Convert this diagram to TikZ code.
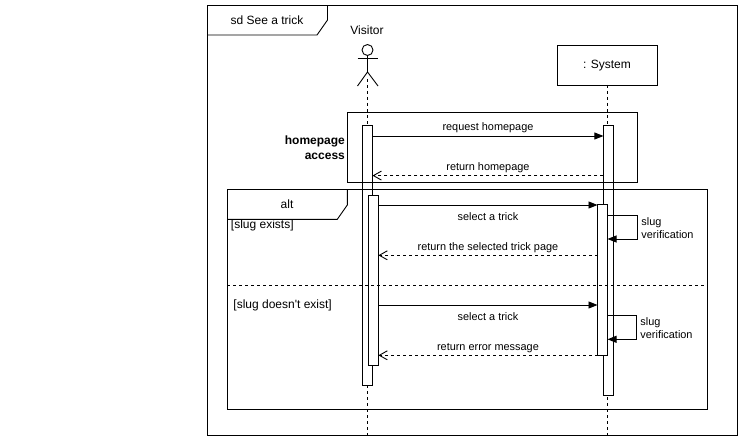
\documentclass[tikz,border=0pt]{standalone}
\usepackage{fontspec}
\setmainfont{Liberation Sans}
\newfontfamily\guardfont{Liberation Sans}
\usetikzlibrary{%
  arrows.meta,%
  positioning
}
\tikzset{%
  seqtext/.style={font=\fontsize{10.9}{13}\selectfont,inner sep=0pt},
  bigtext/.style={font=\fontsize{12}{14}\selectfont,inner sep=0pt},
  lifeline/.style={dash pattern=on 3pt off 3pt},
  fragment/.style={draw,inner sep=0pt,outer sep=0pt,anchor=north west},
  activation/.style={draw,fill=white,minimum width=10pt,inner sep=0pt,outer sep=0pt,anchor=north},
  callarrow/.style={-{Triangle[length=9pt,width=7pt]}},
  backarrow/.style={dash pattern=on 3pt off 3pt,-{Straight Barb[length=8pt,width=9pt]}}
}
\begin{document}
\begin{tikzpicture}[x=1pt,y=-1pt,line width=0.9pt]
      \useasboundingbox (0,0) rectangle (743,441);
      % outer frame
      \node [fragment,minimum width=529.5pt,minimum height=430pt] (frame) at (207.5,5.5) {};
      \draw (207.5,35) -- (317,35) -- (327.5,20) -- (327.5,5.5);
      \node [bigtext] (title) at (267,20.5) {sd See a trick};
      % actor
      \node [draw,circle,minimum size=11pt,inner sep=0pt,outer sep=0pt] (head) at (367.5,50) {};
      \coordinate (hip) at (367.5,72);
      \coordinate (foot) at (367.5,79);
      \draw (head.south) -- (hip);
      \draw (357.5,58.5) -- (378,58.5);
      \draw (357.5,86) -- (hip) -- (378,86);
      \node [bigtext] (visitor) at (367,30) {Visitor};
      \node [draw,minimum width=100pt,minimum height=40pt,inner sep=0pt,outer sep=0pt] (system) at (607.3,65) {};
      \node [bigtext] (systemlabel) at (607,65.5) {: System};
      % lifelines
      \coordinate (visitorend) at (367.5,435.5);
      \coordinate (systemend) at (607.3,435.5);
      \draw [lifeline] (foot) -- (visitorend);
      \draw [lifeline] (system.south) -- (systemend);
      % activations under the fragments
      \node [activation,minimum height=259.7pt] (visitorone) at (367.5,125.5) {};
      \node [activation,minimum height=270pt] (systemone) at (608.4,125.3) {};
      % fragments
      \node [fragment,minimum width=290pt,minimum height=70pt] (homepage) at (347.3,112.3) {};
      \node [align=right,anchor=east,inner sep=0pt,font=\fontsize{12}{15}\selectfont\bfseries,left=2pt of homepage.west] (homepagelabel) {homepage\\access};
      \node [fragment,minimum width=480.2pt,minimum height=220pt] (alt) at (227.3,189.3) {};
      \draw (227.3,219.3) -- (337.3,219.3) -- (347.3,205) -- (347.3,189.3);
      \node [bigtext] (altlabel) at (287,204.5) {alt};
      \node [bigtext,anchor=west] (guardone) at (230.5,225.5) {[slug exists]};
      \node [bigtext,anchor=west] (guardtwo) at (233,305) {\guardfont [slug doesn't exist]};
      \node [activation,minimum height=170.3pt] (visitortwo) at (373.4,195) {};
      \node [activation,minimum height=151.3pt] (systemtwo) at (602.5,204) {};
      \draw [lifeline] (alt.west |- 0,285.3) -- (alt.east |- 0,285.3);
      % messages
      \draw [callarrow] (visitorone.east |- 0,136) -- node [seqtext,above=2.5pt] {request homepage} (systemone.west |- 0,136);
      \draw [backarrow] (systemone.west |- 0,175.6) -- node [seqtext,above=2.5pt] {return homepage} (visitorone.east |- 0,175.6);
      \draw [callarrow] (visitortwo.east |- 0,205) -- node [seqtext,below=7pt] {select a trick} (systemtwo.west |- 0,205);
      \draw [backarrow] (systemtwo.west |- 0,255.3) -- node [seqtext,above=2.5pt] {return the selected trick page} (visitortwo.east |- 0,255.3);
      \draw [callarrow] (visitortwo.east |- 0,305) -- node [seqtext,below=7pt] {select a trick} (systemtwo.west |- 0,305);
      \draw [backarrow] (systemtwo.west |- 0,355.3) -- node [seqtext,above=2.5pt] {return error message} (visitortwo.east |- 0,355.3);
      % self calls
      \draw [callarrow] (systemtwo.east |- 0,215) -- (637.3,215) -- (637.3,239) -- (systemtwo.east |- 0,239);
      \node [seqtext,align=left,anchor=west,font=\fontsize{10.9}{13.5}\selectfont] (verifone) at (641,228) {slug\\verification};
      \draw [callarrow] (systemtwo.east |- 0,315.7) -- (636.3,315.7) -- (636.3,339.3) -- (systemtwo.east |- 0,339.3);
      \node [seqtext,align=left,anchor=west,font=\fontsize{10.9}{13.5}\selectfont] (verifitwo) at (640,328) {slug\\verification};
    \end{tikzpicture}
\end{document}
